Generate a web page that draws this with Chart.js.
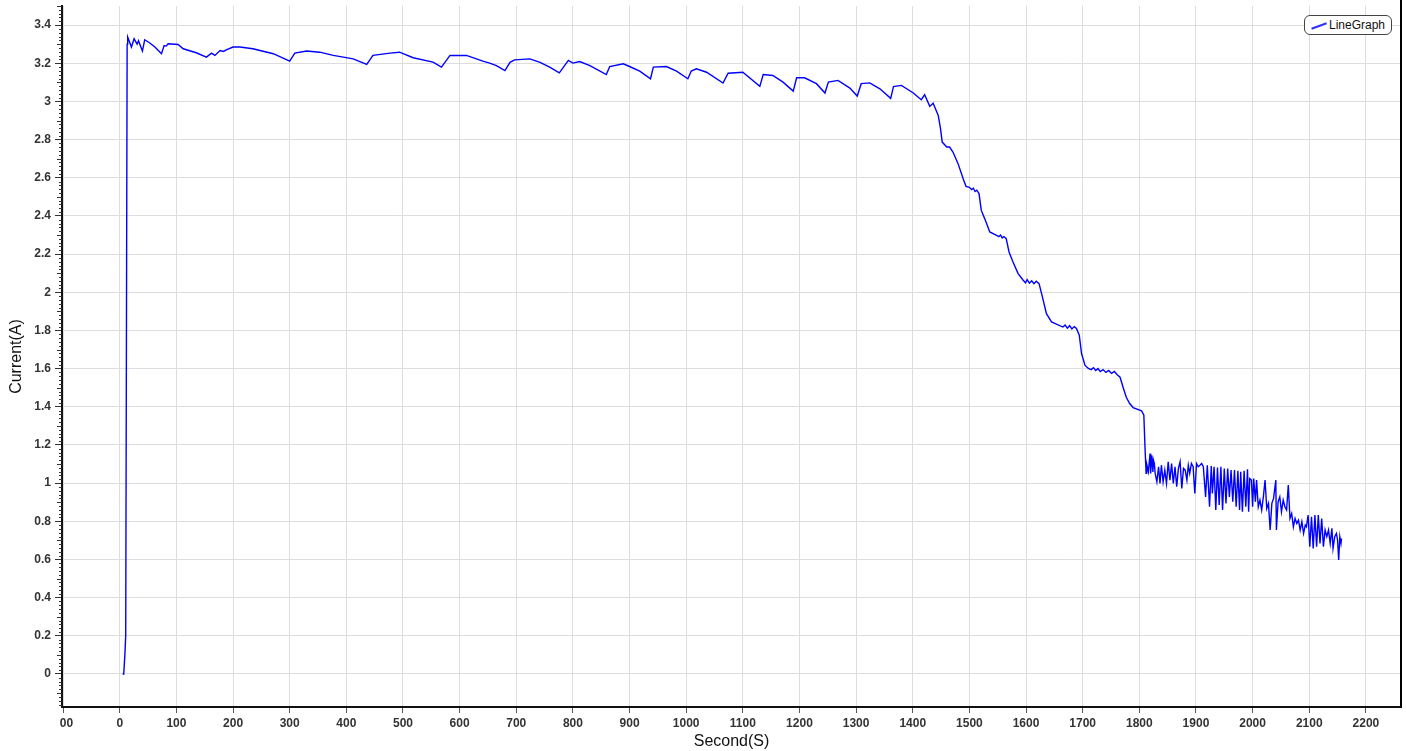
<!DOCTYPE html>
<html>
<head>
<meta charset="utf-8">
<script src="https://cdn.jsdelivr.net/npm/chart.js@4.4.1/dist/chart.umd.min.js"></script>
<style>
  body { margin: 0; background: #fff; }
  #wrap { position: relative; width: 1407px; height: 751px; }
  #legend {
    position: absolute; left: 1304px; top: 15px; width: 86px; height: 18px;
    border: 1.5px solid #444; border-radius: 6px; background: #fff;
    font: 12px "Liberation Sans", Arial, sans-serif; color: #111;
  }
  #legend .swatch {
    position: absolute; left: 6px; top: 9px; width: 16px; height: 1.5px;
    background: #3030ff; transform: rotate(-20deg);
  }
  #legend .label { position: absolute; left: 24px; top: 2px; }
</style>
</head>
<body>
<div id="wrap">
  <canvas id="chart" width="1407" height="751"></canvas>
  <div id="legend"><span class="swatch"></span><span class="label">LineGraph</span></div>
</div>
<script>
const seconds = [
  5, 7, 9, 10.5, 13, 14, 20.6, 25.3, 30.6, 33, 40, 44, 53, 62, 73.6, 78.3, 82, 85.3,
  103, 112, 135, 153, 162, 168, 177, 183, 188, 200, 212, 235, 271, 300, 309, 330,
  353, 377, 412, 436, 447, 477, 494, 518, 553, 568, 583, 612, 641, 653, 665, 680,
  689, 697, 724, 742, 759, 776, 792, 800, 812, 830, 859, 865, 889, 900, 918, 937,
  942, 965, 983, 1003, 1009, 1018, 1036, 1065, 1074, 1100, 1130, 1136, 1153, 1171,
  1189, 1195, 1209, 1230, 1245, 1251, 1268, 1289, 1302, 1309, 1324, 1342, 1361,
  1366, 1380, 1401, 1415, 1421, 1430, 1436, 1445, 1449, 1452, 1460, 1465, 1471,
  1480, 1489, 1494, 1500, 1504, 1507, 1510, 1513, 1517, 1521, 1527, 1536,
  1548, 1552, 1555, 1558, 1561, 1565, 1570, 1577, 1586,
  1595, 1599, 1602, 1606, 1610, 1614, 1618, 1623, 1629, 1636, 1645,
  1665, 1669, 1673, 1677, 1681, 1685, 1689, 1694, 1698, 1704,
  1710, 1715, 1719, 1723, 1727, 1731, 1736, 1741, 1746, 1751, 1756, 1761,
  1766, 1772, 1777, 1783, 1789, 1804, 1808,
  1810, 1812, 1813, 1816, 1819, 1820, 1822, 1824, 1825, 1826.5, 1828, 1831, 1834,
  1836.5, 1839, 1842, 1845, 1848, 1851, 1854, 1857, 1860, 1863, 1866, 1869, 1872,
  1875, 1878, 1881, 1884, 1886.5, 1889, 1892, 1895, 1898, 1901, 1904, 1907, 1910,
  1913, 1914, 1917, 1920, 1924, 1927, 1929, 1932, 1935, 1938, 1941, 1944, 1947,
  1950, 1953, 1956, 1959, 1962, 1965, 1968, 1971, 1974, 1977, 1979, 1982, 1985,
  1988, 1991, 1993, 1995, 1998, 2000, 2002, 2005, 2007, 2010, 2013, 2016, 2019,
  2022, 2025, 2028, 2031, 2034, 2037, 2041, 2042, 2045, 2048, 2051, 2054, 2057,
  2060, 2063, 2066, 2069, 2072, 2075, 2078, 2081, 2084, 2087, 2090, 2093, 2095,
  2098, 2101, 2104, 2107, 2110, 2113, 2116, 2119, 2122, 2125, 2128, 2131, 2134,
  2137, 2140, 2142, 2145, 2148, 2150, 2152, 2154, 2156, 2157
]

const current = [
  0, 0, 0.1, 0.2, 3.3, 3.337, 3.285, 3.328, 3.300, 3.318, 3.264, 3.323, 3.306, 3.285, 3.250, 3.293, 3.290, 3.302,
  3.298, 3.276, 3.255, 3.232, 3.253, 3.241, 3.267, 3.262, 3.270, 3.285, 3.285, 3.276, 3.250, 3.211, 3.253, 3.264,
  3.258, 3.241, 3.223, 3.194, 3.241, 3.253, 3.258, 3.229, 3.206, 3.180, 3.241, 3.241, 3.211, 3.201, 3.188, 3.162,
  3.205, 3.218, 3.223, 3.205, 3.180, 3.150, 3.215, 3.201, 3.209, 3.188, 3.141, 3.183, 3.197, 3.183, 3.159, 3.119,
  3.180, 3.183, 3.159, 3.119, 3.159, 3.171, 3.153, 3.096, 3.148, 3.153, 3.079, 3.141, 3.136, 3.101,
  3.054, 3.124, 3.124, 3.093, 3.044, 3.101, 3.110, 3.070, 3.028, 3.093, 3.097, 3.066, 3.016,
  3.078, 3.084, 3.044, 3.009, 3.035, 2.974, 2.991, 2.927, 2.857, 2.787, 2.761, 2.761, 2.735,
  2.674, 2.595, 2.555, 2.550, 2.538, 2.545, 2.528, 2.535, 2.517, 2.429, 2.386, 2.316,
  2.298, 2.292, 2.300, 2.285, 2.292, 2.281, 2.211, 2.159, 2.098,
  2.063, 2.050, 2.066, 2.048, 2.060, 2.045, 2.058, 2.045, 1.975, 1.888, 1.845,
  1.818, 1.828, 1.812, 1.825, 1.808, 1.820, 1.810, 1.775, 1.679, 1.618,
  1.601, 1.595, 1.605, 1.590, 1.600, 1.585, 1.595, 1.580, 1.590, 1.575, 1.585, 1.568,
  1.555, 1.496, 1.450, 1.417, 1.396, 1.379, 1.356,
  1.190, 1.051, 1.100, 1.060, 1.155, 1.051, 1.146, 1.059, 1.120, 1.103, 1.051, 1.007, 1.086,
  0.998, 1.094, 1.007, 1.068, 0.998, 1.112, 1.016, 1.103, 0.998, 1.086, 0.981, 1.077, 1.112,
  0.972, 1.077, 1.068, 1.016, 1.094, 1.051, 1.103, 1.086, 0.946, 1.103, 1.086, 1.094, 1.103,
  1.086, 1.086, 0.928, 1.094, 0.876, 1.089, 0.946, 1.086, 0.859, 1.082, 0.885, 1.086, 0.859,
  1.077, 0.894, 1.077, 0.928, 1.068, 0.902, 1.068, 0.876, 1.065, 0.859, 1.059, 0.850, 1.065,
  0.876, 1.072, 0.850, 1.024, 1.016, 0.876, 1.024, 0.902, 1.016, 0.876, 0.911, 0.859, 0.928,
  1.016, 0.867, 0.894, 0.754, 0.894, 0.920, 1.016, 0.754, 0.902, 0.928, 0.850, 0.911, 0.876,
  0.859, 0.990, 0.815, 0.841, 0.771, 0.815, 0.789, 0.806, 0.754, 0.798, 0.736, 0.780, 0.771,
  0.833, 0.667, 0.824, 0.658, 0.833, 0.667, 0.833, 0.684, 0.815, 0.667, 0.754, 0.719, 0.754,
  0.684, 0.763, 0.658, 0.719, 0.736, 0.702, 0.597, 0.719, 0.684, 0.710
]

const xTicks = [-100, 0, 100, 200, 300, 400, 500, 600, 700, 800, 900, 1000, 1100,
  1200, 1300, 1400, 1500, 1600, 1700, 1800, 1900, 2000, 2100, 2200]
const yTicks = [0, 0.2, 0.4, 0.6, 0.8, 1, 1.2, 1.4, 1.6, 1.8, 2, 2.2, 2.4, 2.6,
  2.8, 3, 3.2, 3.4]

const TICK_FONT = { family: '"Liberation Sans", Arial, sans-serif', size: 12, weight: 'bold' }
const TITLE_FONT = { family: '"Liberation Sans", Arial, sans-serif', size: 16 }
const GRID = '#dddddd'

// small ticks on the current axis + closing line on the right side
const frame = {
  id: 'frame',
  afterDraw(chart) {
    const ctx = chart.ctx
    const y = chart.scales.y
    const area = chart.chartArea
    ctx.save()
    ctx.strokeStyle = '#333'
    ctx.lineWidth = 1
    ctx.beginPath()
    for (let i = -8; i <= 175; i++) {
      if (i % 10 === 0) continue
      let py = Math.round(y.getPixelForValue(i * 0.02)) + 0.5
      let len = (i % 5 === 0) ? 5 : 3
      ctx.moveTo(area.left - len, py)
      ctx.lineTo(area.left, py)
    }
    ctx.stroke()

    ctx.strokeStyle = '#000'
    ctx.lineWidth = 2
    ctx.beginPath()
    ctx.moveTo(area.right, 0)
    ctx.lineTo(area.right, area.bottom + 1)
    ctx.stroke()
    ctx.restore()
  }
}

let ctx = document.getElementById('chart').getContext('2d')
let chart = new Chart(ctx, {
  type: 'line',
  data: {
    datasets: [{
      label: 'LineGraph',
      data: seconds.map((s, i) => ({ x: s, y: current[i] })),
      borderColor: '#0000ff',
      borderWidth: 1.4,
      pointRadius: 0,
      tension: 0,
      fill: false
    }]
  },
  options: {
    responsive: false,
    animation: false,
    devicePixelRatio: 1,
    layout: { padding: { top: 6, right: 6, left: 0, bottom: 0 } },
    plugins: { legend: { display: false }, tooltip: { enabled: false } },
    scales: {
      x: {
        type: 'linear',
        min: -102,
        max: 2262,
        afterBuildTicks: s => { s.ticks = xTicks.map(v => ({ value: v })) },
        afterFit: s => { s.height = 44; s.paddingLeft = 0; s.paddingRight = 0 },
        grid: { color: GRID, lineWidth: 1, tickColor: '#555', tickLength: 6 },
        border: { color: '#111', width: 2 },
        ticks: {
          autoSkip: false, maxRotation: 0, padding: 3,
          font: TICK_FONT, color: '#333',
          callback: v => v === -100 ? '\u200700' : String(v)
        },
        title: { display: true, text: 'Second(S)', font: TITLE_FONT, color: '#111', padding: { top: 0, bottom: 0 } }
      },
      y: {
        type: 'linear',
        min: -0.173,
        max: 3.5,
        afterBuildTicks: s => { s.ticks = yTicks.map(v => ({ value: v })) },
        afterFit: s => { s.width = 62; s.paddingTop = 0; s.paddingBottom = 0 },
        grid: { color: GRID, lineWidth: 1, tickColor: '#333', tickLength: 7 },
        border: { color: '#111', width: 2 },
        ticks: {
          padding: 4, font: TICK_FONT, color: '#333',
          callback: v => String(+v.toFixed(1))
        },
        title: { display: true, text: 'Current(A)', font: TITLE_FONT, color: '#111', padding: { top: 7, bottom: 0 } }
      }
    }
  },
  plugins: [frame]
})
</script>
</body>
</html>
